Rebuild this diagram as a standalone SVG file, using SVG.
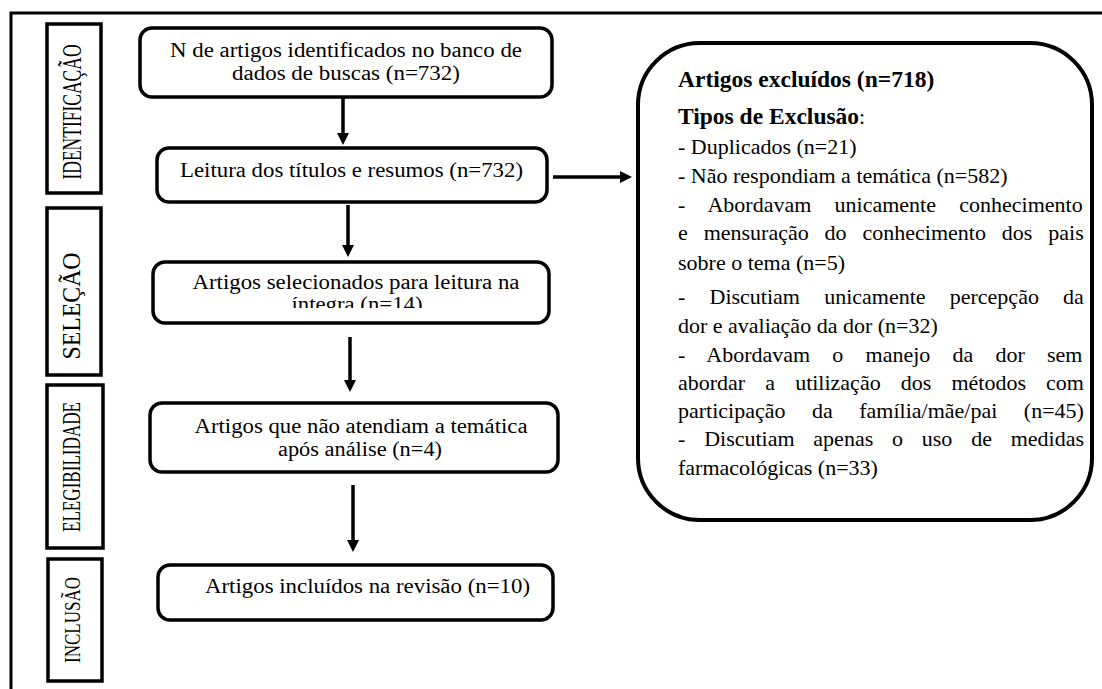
<svg xmlns="http://www.w3.org/2000/svg" width="1102" height="689" viewBox="0 0 1102 689" font-family="'Liberation Serif', 'Times New Roman', 'DejaVu Serif', serif">
<style>
text{font-family:'Liberation Serif','Times New Roman','DejaVu Serif',serif;fill:#000}
.box{fill:#fff;stroke:#000;stroke-width:3.5}
.ph{fill:#fff;stroke:#000;stroke-width:3.5}
.t{font-size:20px}
.lab{text-anchor:middle}
.b{font-weight:bold;font-size:23.5px}
.r{font-size:22px}
.ar{stroke:#000;stroke-width:3.5;fill:none;marker-end:url(#ah)}
</style>
<defs>
<marker id="ah" viewBox="0 0 12 12" refX="4" refY="6" markerWidth="12" markerHeight="12" markerUnits="userSpaceOnUse" orient="auto">
<path d="M0,0 L12,6 L0,12 z" fill="#000"/>
</marker>
<clipPath id="c3"><rect x="153" y="262" width="396" height="46"/></clipPath>
</defs>
<rect width="1102" height="689" fill="#fff"/>
<path d="M11,689 L11,13 L1102,13" fill="none" stroke="#000" stroke-width="3"/>

<g id="phase-identificacao">
<rect class="ph" x="47" y="24" width="54" height="169"/>
<text class="lab" transform="translate(81,112) rotate(-90) scale(1.03,1.65)" font-size="17">IDENTIFICAÇÃO</text>
</g>
<g id="phase-selecao">
<rect class="ph" x="47" y="208" width="54" height="167"/>
<text class="lab" transform="translate(80,306) rotate(-90)" font-size="26" textLength="107" lengthAdjust="spacingAndGlyphs">SELEÇÃO</text>
</g>
<g id="phase-elegibilidade">
<rect class="ph" x="47" y="385" width="56" height="163"/>
<text class="lab" transform="translate(80,467) rotate(-90)" font-size="26" textLength="130" lengthAdjust="spacingAndGlyphs">ELEGIBILIDADE</text>
</g>
<g id="phase-inclusao">
<rect class="ph" x="48" y="559" width="54" height="122"/>
<text class="lab" transform="translate(80,620) rotate(-90)" font-size="23" textLength="86" lengthAdjust="spacingAndGlyphs">INCLUSÃO</text>
</g>

<g id="connectors">
<line class="ar" x1="343" y1="97" x2="343" y2="137"/>
<line class="ar" x1="348" y1="205" x2="348" y2="249"/>
<line class="ar" x1="350" y1="337" x2="350" y2="384"/>
<line class="ar" x1="353" y1="485" x2="353" y2="544"/>
<line class="ar" x1="553" y1="177" x2="624" y2="177"/>
</g>

<g id="n1">
<rect class="box" x="140" y="28" width="412" height="69" rx="12"/>
<text class="t lab" x="346" y="57" textLength="352" lengthAdjust="spacingAndGlyphs">N de artigos identificados no banco de</text>
<text class="t lab" x="346" y="80" textLength="228" lengthAdjust="spacingAndGlyphs">dados de buscas (n=732)</text>
</g>
<g id="n2">
<rect class="box" x="157" y="148" width="390" height="54" rx="12"/>
<text class="t lab" x="351.5" y="177" textLength="343" lengthAdjust="spacingAndGlyphs">Leitura dos títulos e resumos (n=732)</text>
</g>
<g id="n3">
<rect class="box" x="153" y="262" width="396" height="61" rx="12"/>
<text class="t lab" x="356" y="289" textLength="327" lengthAdjust="spacingAndGlyphs">Artigos selecionados para leitura na</text>
<text class="t lab" x="357" y="311" textLength="131" lengthAdjust="spacingAndGlyphs" clip-path="url(#c3)">íntegra (n=14)</text>
</g>
<g id="n4">
<rect class="box" x="150" y="403" width="408" height="69" rx="12"/>
<text class="t lab" x="361" y="433" textLength="333" lengthAdjust="spacingAndGlyphs">Artigos que não atendiam a temática</text>
<text class="t lab" x="360" y="456" textLength="164" lengthAdjust="spacingAndGlyphs">após análise (n=4)</text>
</g>
<g id="n5">
<rect class="box" x="158" y="565" width="395" height="55" rx="12"/>
<text class="t lab" x="367.5" y="593" textLength="325" lengthAdjust="spacingAndGlyphs">Artigos incluídos na revisão (n=10)</text>
</g>

<g id="excluded">
<rect x="638" y="43" width="454" height="477" rx="62" fill="#fff" stroke="#000" stroke-width="4"/>
<text class="b" x="678" y="87">Artigos excluídos (n=718)</text>
<text x="678" y="124"><tspan class="b">Tipos de Exclusão</tspan><tspan class="r">:</tspan></text>
<text class="r" x="678" y="154">- Duplicados (n=21)</text>
<text class="r" x="678" y="183">- Não respondiam a temática (n=582)</text>
<text class="r" x="678" y="212" word-spacing="17.8">- Abordavam unicamente conhecimento</text>
<text class="r" x="678" y="240" word-spacing="10.4">e mensuração do conhecimento dos pais</text>
<text class="r" x="678" y="270">sobre o tema (n=5)</text>
<text class="r" x="678" y="304" word-spacing="18.7">- Discutiam unicamente percepção da</text>
<text class="r" x="678" y="333">dor e avaliação da dor (n=32)</text>
<text class="r" x="678" y="362" word-spacing="16.7">- Abordavam o manejo da dor sem</text>
<text class="r" x="678" y="390" word-spacing="14.6">abordar a utilização dos métodos com</text>
<text class="r" x="678" y="418" word-spacing="21">participação da família/mãe/pai (n=45)</text>
<text class="r" x="678" y="446" word-spacing="13.3">- Discutiam apenas o uso de medidas</text>
<text class="r" x="678" y="475">farmacológicas (n=33)</text>
</g>
</svg>
